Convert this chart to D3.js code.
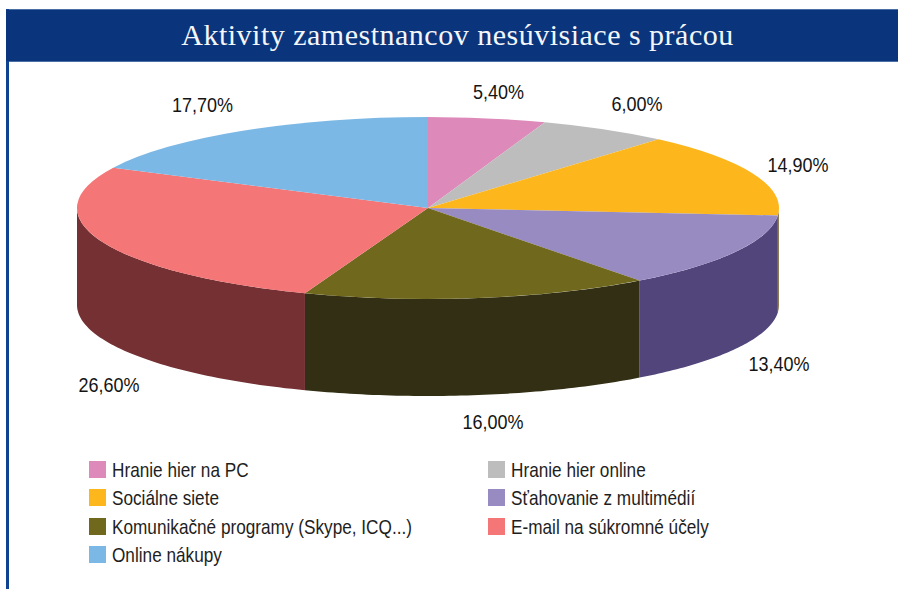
<!DOCTYPE html>
<html><head><meta charset="utf-8">
<script src="https://cdn.jsdelivr.net/npm/d3@7/dist/d3.min.js"></script>
<style>html,body{margin:0;padding:0;background:#fff}svg{display:block}</style>
</head><body><div id="c"></div>
<script>
const categories=["Hranie hier na PC","Hranie hier online","Sociálne siete","Sťahovanie z multimédií","Komunikačné programy (Skype, ICQ...)","E-mail na súkromné účely","Online nákupy"];
const values=[5.4,6.0,14.9,13.4,16.0,26.6,17.7];
const valueLabels=["5,40%","6,00%","14,90%","13,40%","16,00%","26,60%","17,70%"];
const topColors=["#dd89b9","#bdbdbd","#fdb71c","#988bc1","#70681d","#f47676","#7cb8e5"];
const wallColors=["#7a4a66","#686868","#8f7a55","#51457c","#322f14","#743033","#44658a"];
const title="Aktivity zamestnancov nesúvisiace s prácou";
const labelPos=[[498.5,92],[637,104],[798,165],[779,364],[493,422],[109,385],[202.5,105]];
const legendPos=[[89,461],[488,461],[89,489],[488,489],[89,518],[488,518],[89,546]];

const W=898,H=589,cx=428,cy=208,rx=351,ry=91,depth=97;
const svg=d3.select("#c").append("svg").attr("width",W).attr("height",H);
svg.append("rect").attr("x",6).attr("y",9).attr("width",W-6).attr("height",53).attr("fill","#4a6fa5");
svg.append("rect").attr("x",6).attr("y",10).attr("width",W-6).attr("height",51).attr("fill","#0a357c");
svg.append("rect").attr("x",6).attr("y",9).attr("width",3).attr("height",H-9).attr("fill","#0f4290");
svg.append("rect").attr("x",6).attr("y",10).attr("width",3).attr("height",51).attr("fill","#0a357c");
svg.append("text").attr("x",457.5).attr("y",45).attr("text-anchor","middle")
  .attr("font-family","'Liberation Serif'").attr("font-size",30).attr("letter-spacing",0.5)
  .attr("fill","#f4f6fa").text(title);

const pie=d3.pie().sort(null)(values);
const px=a=>cx+rx*Math.sin(a), py=a=>cy-ry*Math.cos(a);
const line=d3.line();
const wall=svg.append("g");
pie.forEach((s,i)=>{
  const a0=Math.max(s.startAngle,Math.PI/2),a1=Math.min(s.endAngle,3*Math.PI/2);
  if(a1<=a0)return;
  const steps=d3.range(0,61).map(k=>a0+(a1-a0)*k/60);
  const pts=steps.map(a=>[px(a),py(a)]).concat(steps.slice().reverse().map(a=>[px(a),py(a)+depth]));
  wall.append("path").attr("d",line(pts)+"Z").attr("fill",wallColors[i]);
});
const arc=d3.arc().innerRadius(0).outerRadius(rx);
svg.append("g").attr("transform",`translate(${cx},${cy}) scale(1,${ry/rx})`)
  .selectAll("path").data(pie).join("path").attr("d",arc).attr("fill",(d,i)=>topColors[i]);

const font="'Liberation Sans'";
svg.append("g").selectAll("text").data(valueLabels).join("text")
  .attr("transform",(d,i)=>`translate(${labelPos[i][0]},${labelPos[i][1]+7}) scale(0.9,1)`)
  .attr("text-anchor","middle").attr("font-family",font).attr("font-size",20).attr("fill","#141414").text(d=>d);

const lg=svg.append("g");
categories.forEach((c,i)=>{
  const [x,y]=legendPos[i];
  lg.append("rect").attr("x",x).attr("y",y).attr("width",17).attr("height",17).attr("fill",topColors[i]);
  lg.append("text").attr("transform",`translate(${x+23},${y+16}) scale(0.86,1)`)
    .attr("font-family",font).attr("font-size",20).attr("fill","#1e1e1e").text(c);
});
</script></body></html>
